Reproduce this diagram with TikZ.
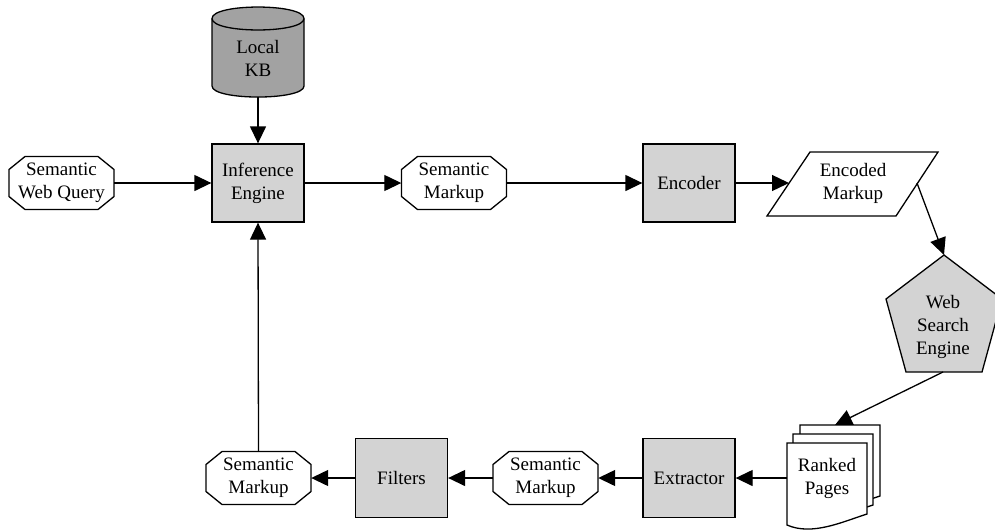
\documentclass[tikz,border=0pt]{standalone}
\usepackage{fontspec}
\setmainfont{Liberation Serif}
\usetikzlibrary{arrows.meta}
\definecolor{boxgray}{RGB}{211,211,211}
\definecolor{kbgray}{RGB}{162,162,162}
\newcommand\octnode[4]{%
  \draw[shapeline, fill=white, shift={(#2,#3)}] (-52.5,-13.5) -- (-36.5,-26.5) -- (36.5,-26.5) -- (52.5,-13.5) -- (52.5,13.5) -- (36.5,26.5) -- (-36.5,26.5) -- (-52.5,13.5) -- cycle;
  \node[minimum width=105pt, minimum height=53pt] (#1) at (#2,#3) {#4};}
\newcommand\docpage[2]{%
  \draw[shapeline, fill=white, shift={(#1,#2)}] (787,443) -- (867,443) -- (867,514) .. controls (842,522) and (812,536) .. (787,525) -- cycle;}
\begin{document}
\begin{tikzpicture}[x=1pt,y=-1pt,
  every node/.style={font=\fontsize{19}{23}\selectfont, align=center, inner sep=0pt},
  shapeline/.style={draw=black, line width=1.3pt, line join=miter},
  procbox/.style={shapeline, fill=boxgray, minimum width=92pt, minimum height=78pt},
  conn/.style={line width=1.3pt, -{Triangle[length=17pt,width=16pt]}}]
\useasboundingbox (0,0) rectangle (995,531);
% Local KB cylinder
\draw[shapeline, fill=kbgray] (212,18.5) -- (212,86) .. controls (212,100.7) and (304,100.7) .. (304,86) -- (304,18.5) .. controls (304,3.2) and (212,3.2) .. (212,18.5) -- cycle;
\draw[shapeline] (212,18.5) .. controls (212,33.8) and (304,33.8) .. (304,18.5);
\node[minimum width=92pt, minimum height=78pt] (kb) at (258,58) {Local\\KB};
% process boxes
\node[procbox] (ie) at (258,183) {Inference\\Engine};
\node[procbox] (enc) at (689,183) {Encoder};
\node[procbox, minimum height=79pt] (ext) at (689,478) {Extractor};
\node[procbox, minimum height=79pt] (fil) at (401.5,478) {Filters};
% octagons
\octnode{swq}{61.5}{183}{Semantic\\Web Query}
\octnode{smA}{454}{183}{Semantic\\Markup}
\octnode{smB}{545.5}{478}{Semantic\\Markup}
\octnode{smC}{258.5}{478}{Semantic\\Markup}
% encoded markup parallelogram
\draw[shapeline, fill=white] (810,152) -- (938,152) -- (896,216) -- (767,216) -- cycle;
\node (em) at (853,183) {Encoded\\Markup};
\coordinate (emL) at (789,183);
\coordinate (emR) at (917,183);
% web search engine pentagon
\draw[shapeline, fill=boxgray] (944,255) -- (1002,299) -- (982,372) -- (906,372) -- (886,299) -- cycle;
\node (wse) at (943,327) {Web\\Search\\Engine};
\coordinate (wseTop) at (944,255);
\coordinate (wseBot) at (943,372);
% ranked pages
\docpage{13}{-18}
\docpage{6}{-9}
\docpage{0}{0}
\node[minimum width=80pt, minimum height=82pt] (rp) at (827,478) {Ranked\\Pages};
\coordinate (rpTop) at (835,425);
% connectors
\draw[conn] (swq.east) -- (ie.west);
\draw[conn] (kb.south) -- (ie.north);
\draw[conn] (ie.east) -- (smA.west);
\draw[conn] (smA.east) -- (enc.west);
\draw[conn] (enc.east) -- (emL);
\draw[conn] (emR) -- (wseTop);
\draw[conn] (wseBot) -- (rpTop);
\draw[conn] (rp.west) -- (ext.east);
\draw[conn] (ext.west) -- (smB.east);
\draw[conn] (smB.west) -- (fil.east);
\draw[conn] (fil.west) -- (smC.east);
\draw[conn] (smC.north) -- (ie.south);
\end{tikzpicture}
\end{document}
